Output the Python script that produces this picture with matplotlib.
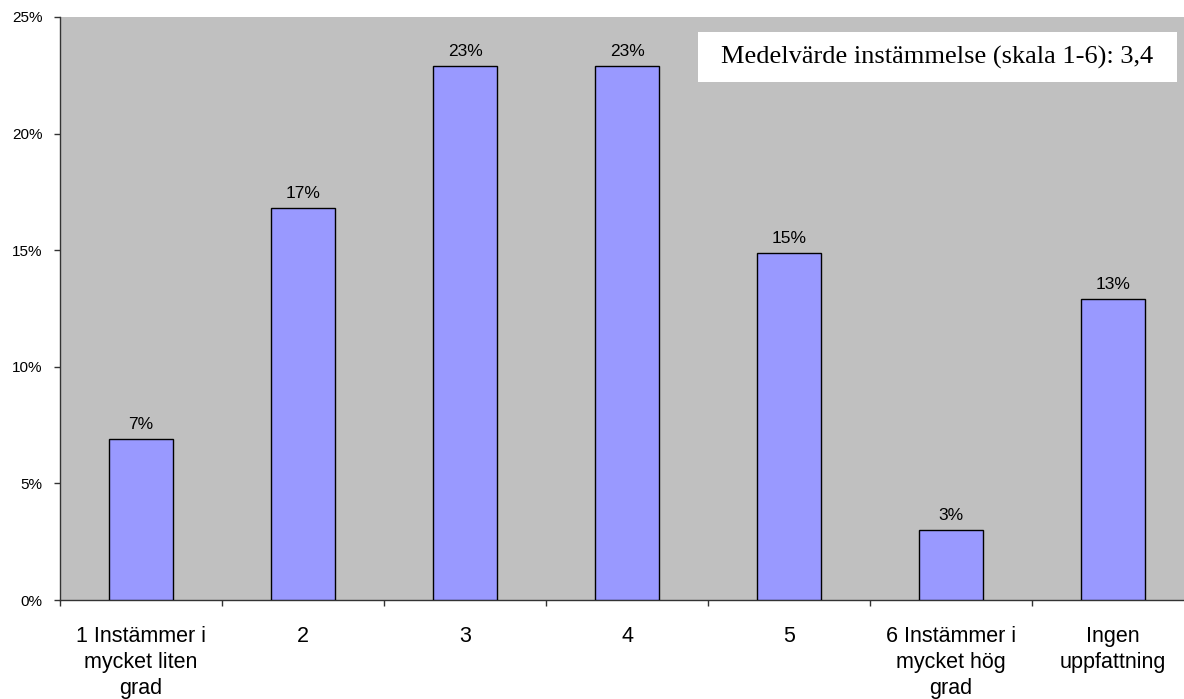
import matplotlib
matplotlib.use("Agg")
import matplotlib.pyplot as plt
from matplotlib.patches import Rectangle
from matplotlib.ticker import FuncFormatter, FixedLocator

categories = ["1 Instämmer i\nmycket liten\ngrad", "2", "3", "4", "5",
              "6 Instämmer i\nmycket hög\ngrad", "Ingen\nuppfattning"]
values = [6.9, 16.8, 22.9, 22.9, 14.9, 3.0, 12.9]
value_labels = ["7%", "17%", "23%", "23%", "15%", "3%", "13%"]
yticks = [0, 5, 10, 15, 20, 25]
annotation = "Medelvärde instämmelse (skala 1-6): 3,4"

W, H = 1184, 699
fig = plt.figure(figsize=(W / 100, H / 100), dpi=100)
L, R, T, B = 60, 1194, 17, 600
ax = fig.add_axes([L / W, (H - B) / H, (R - L) / W, (B - T) / H])
ax.set_facecolor("#C0C0C0")

x = list(range(len(categories)))
ax.bar(x, values, width=0.40, color="#9999FF", edgecolor="black", linewidth=1, zorder=3)
for xi, v, lab in zip(x, values, value_labels):
    ax.annotate(lab, (xi, v), xytext=(0, 5), textcoords="offset points",
                ha="center", va="bottom", fontsize=12.5, family="Liberation Sans")

ax.set_xlim(-0.5, len(categories) - 0.5)
ax.set_ylim(0, 25)
ax.yaxis.set_major_locator(FixedLocator(yticks))
ax.yaxis.set_major_formatter(FuncFormatter(lambda v, p: f"{int(v)}%"))
ax.set_xticks([i - 0.5 for i in range(len(categories) + 1)])
ax.set_xticklabels([])
ax.set_xticks(x, minor=True)
ax.set_xticklabels(categories, minor=True, fontsize=15.5, family="Liberation Sans",
                   linespacing=1.3, va="top")
ax.tick_params(axis="x", which="minor", length=0, pad=19)
ax.tick_params(axis="x", which="major", length=4.5, width=1, color="#333333")
ax.tick_params(axis="y", length=4.5, width=1, color="#333333", labelsize=11, pad=8)
for lab in ax.get_yticklabels():
    lab.set_family("Liberation Sans")

for s in ["top", "right"]:
    ax.spines[s].set_visible(False)
for s in ["left", "bottom"]:
    ax.spines[s].set_color("#333333")
    ax.spines[s].set_linewidth(1)

bx0, bx1, by0, by1 = 698, 1177, 32, 82
rect = Rectangle(((bx0 - L) / (R - L), (B - by1) / (B - T)), (bx1 - bx0) / (R - L),
                 (by1 - by0) / (B - T), transform=ax.transAxes, facecolor="white",
                 edgecolor="none", zorder=4)
ax.add_patch(rect)
ax.text(((bx0 + bx1) / 2 - L) / (R - L), (B - (by0 + by1) / 2) / (B - T), annotation,
        transform=ax.transAxes, ha="center", va="center", fontsize=19,
        family="Liberation Serif", zorder=5)

fig.savefig("out.png", dpi=100)
